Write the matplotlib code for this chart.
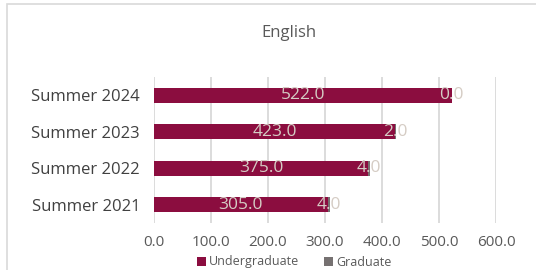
import matplotlib.pyplot as plt
from matplotlib.patches import Rectangle

terms = ['Summer 2021', 'Summer 2022', 'Summer 2023', 'Summer 2024']
undergrad = [305.0, 375.0, 423.0, 522.0]
grad = [4.0, 4.0, 2.0, 0.0]
xticks = [0, 100, 200, 300, 400, 500, 600]

ug_color = '#8B0D3F'
gr_color = '#767171'
lbl_color = '#D5CCC4'

plt.rcParams['font.family'] = ['Open Sans', 'DejaVu Sans']

fig = plt.figure(figsize=(5.36, 2.7), dpi=100)
W, H = 536, 270
ax = fig.add_axes([154 / W, 1 - 223 / H, (496 - 154) / W, (223 - 77) / H])

# chart border (light grey frame)
fig.patches.append(Rectangle((7 / W, -0.1), 1.2, 1 - 4 / H + 0.1, transform=fig.transFigure,
                             fill=False, edgecolor='#D9D9D9', linewidth=1.2))

y = range(len(terms))
ax.barh(y, undergrad, height=0.4, color=ug_color, label='Undergraduate', zorder=3)
ax.barh(y, grad, left=undergrad, height=0.4, color=gr_color, label='Graduate', zorder=3)

for i in y:
    ax.text(undergrad[i] / 2, i, f'{undergrad[i]:.1f}', ha='center', va='center',
            color=lbl_color, fontsize=12.5, zorder=4)
    ax.text(undergrad[i] + grad[i] / 2, i, f'{grad[i]:.1f}', ha='center', va='center',
            color=lbl_color, fontsize=12.5, zorder=4)

ax.set_xlim(0, 600)
ax.set_ylim(-0.5, 3.5)
ax.set_xticks(xticks)
ax.set_xticklabels([f'{v:.1f}' for v in xticks], color='#595959', fontsize=11)
ax.set_yticks(list(y))
ax.set_yticklabels(terms, color='#404040', fontsize=12)
ax.tick_params(length=0)
ax.tick_params(axis='y', pad=10)
ax.tick_params(axis='x', pad=9)
ax.grid(axis='x', color='#D9D9D9', linewidth=1.3, zorder=0)
for s in ax.spines.values():
    s.set_visible(False)

fig.text(289 / W, 1 - 33 / H, 'English', ha='center', va='center',
         color='#595959', fontsize=12)

fig.legend(loc='center', bbox_to_anchor=(294 / W, 1 - 262 / H), ncol=2, frameon=False,
           fontsize=9, handlelength=0.7, handleheight=0.7, handletextpad=0.25,
           columnspacing=2.0, labelcolor='#595959')

fig.savefig('out.png', dpi=100)
